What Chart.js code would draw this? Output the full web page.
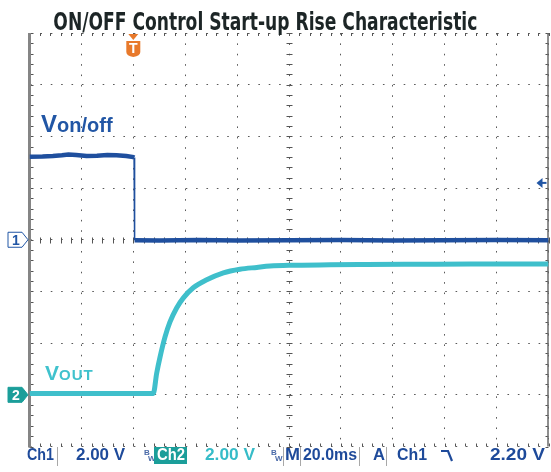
<!DOCTYPE html>
<html>
<head>
<meta charset="utf-8">
<script src="https://cdn.jsdelivr.net/npm/chart.js@4.4.1/dist/chart.umd.min.js"></script>
<style>
    html, body { margin: 0; padding: 0; background: #fff; }
    #cadre { position: relative; width: 551px; height: 472px; overflow: hidden; font-family: "Liberation Sans", Arial, sans-serif; }
    #graphique { position: absolute; left: 0; top: 0; }
    #titre { position: absolute; left: -500px; top: 7px; width: 1530px; text-align: center; line-height: 25px; white-space: nowrap; }
    #titreTexte { display: inline-block; font: bold 25px "Liberation Sans Narrow", "DejaVu Sans Condensed", sans-serif; color: #1c2526; transform-origin: 50% 50%; }
    .etiquette { position: absolute; white-space: nowrap; font-weight: bold; }
    #labelOnOff { left: 41px; top: 112px; line-height: 24px; color: #2156a5; }
    #labelOnOff .grand { font-size: 24px; }
    #labelOnOff .petit { font-size: 20px; }
    #labelOut { left: 45px; top: 362px; line-height: 21px; color: #40c2cd; }
    #labelOut .grand { font-size: 21px; }
    #labelOut .petit { font-size: 15px; letter-spacing: 1px; }
    .b { position: absolute; top: 447px; font: bold 16px/16px "Liberation Sans", Arial, sans-serif; white-space: nowrap; transform-origin: 0 50%; }
    .bleu { color: #1e4a9a; }
    .cyan { color: #36bcc8; }
    .ch2 { color: #fff; }
    #fondCh2 { position: absolute; left: 154px; top: 447px; width: 33px; height: 17px; background: #1b9e9a; }
    .sep { position: absolute; top: 447px; width: 1px; height: 19px; background: #a8a8a8; }
    .bw { position: absolute; font: bold 8px/8px "Liberation Sans", Arial, sans-serif; color: #4a6aa8; }
</style>
</head>
<body>
<div id="cadre">
    <canvas id="graphique" width="551" height="472"></canvas>
    <div id="titre"><span id="titreTexte">ON/OFF Control Start-up Rise Characteristic</span></div>
    <div id="labelOnOff" class="etiquette"><span class="grand">V</span><span class="petit">on/off</span></div>
    <div id="labelOut" class="etiquette"><span class="grand">V</span><span class="petit">OUT</span></div>

    <span class="b bleu" style="left:27px" data-w="27">Ch1</span>
    <span class="sep" style="left:57px"></span>
    <span class="b bleu" style="left:76px" data-w="49">2.00 V</span>
    <span class="bw" style="left:144px; top:449px">B</span>
    <span class="bw" style="left:148px; top:455px">W</span>
    <div id="fondCh2"></div>
    <span class="b ch2" style="left:157px" data-w="28">Ch2</span>
    <span class="b cyan" style="left:205px" data-w="50">2.00 V</span>
    <span class="bw" style="left:271px; top:449px">B</span>
    <span class="bw" style="left:275px; top:455px">W</span>
    <span class="sep" style="left:283px"></span>
    <span class="b bleu" style="left:285px" data-w="15">M</span>
    <span class="sep" style="left:300px"></span>
    <span class="b bleu" style="left:303px" data-w="54">20.0ms</span>
    <span class="sep" style="left:359px"></span>
    <span class="b bleu" style="left:373px" data-w="12">A</span>
    <span class="sep" style="left:386px"></span>
    <span class="b bleu" style="left:397px" data-w="30">Ch1</span>
    <svg style="position:absolute; left:440px; top:449px" width="16" height="14"><path d="M1 2 H8 L12 12" fill="none" stroke="#1e4a9a" stroke-width="2.2"/></svg>
    <span class="b bleu" style="left:490px" data-w="55">2.20 V</span>
</div>

<script>
const tempsCh1 = [-40, -35, -31, -27.5, -25, -22, -18, -14, -10, -6.5, -2.7, 0, 0.3, 0.5, 10, 25, 40, 60, 80, 100, 120, 140, 160];
const voltsCh1 = [3.21, 3.22, 3.24, 3.27, 3.30, 3.28, 3.24, 3.25, 3.28, 3.27, 3.24, 3.20, 3.18, -0.02, -0.03, -0.01, -0.03, -0.02, -0.01, -0.03, -0.02, -0.01, -0.02];

const tempsCh2 = [-40, 0, 7.7, 9.0, 10.3, 12.2, 14.1, 16.7, 19.3, 23.1, 28.3, 34.7, 41.1, 47.6, 52.7, 60, 75.8, 90, 110, 130, 160];
const voltsCh2 = [0.05, 0.05, 0.05, 0.83, 1.46, 2.23, 2.81, 3.36, 3.75, 4.14, 4.45, 4.72, 4.86, 4.93, 4.98, 5.01, 5.03, 5.04, 5.05, 5.06, 5.06];

// Réglages de l'oscilloscope
const VOLTS_PAR_DIV = 2;      // Ch1 et Ch2 : 2.00 V
const ZERO_CH1 = 0;           // repère 1 (en divisions)
const ZERO_CH2 = -3;          // repère 2
const NIVEAU_TRIGGER = 2.2;   // Ch1 2.20 V
const MS_PAR_DIV = 20;
const TEMPS_MIN = -40, TEMPS_MAX = 160;
const DIV_MIN = -4, DIV_MAX = 4;

function points(temps, volts, zero) {
    let pts = [];
    for (let i = 0; i < temps.length; i++) {
        pts.push({ x: temps[i], y: volts[i] / VOLTS_PAR_DIV + zero });
    }
    return pts;
}

// Repères de l'écran : graduations, bords, marqueurs 1 / 2 / T
let decor = {
    id: 'decor',
    beforeDatasetsDraw(chart) {
        let ctx = chart.ctx, a = chart.chartArea, sx = chart.scales.x, sy = chart.scales.y;
        let cx = Math.round(sx.getPixelForValue((TEMPS_MIN + TEMPS_MAX) / 2)) + 0.5;
        let cy = Math.round(sy.getPixelForValue(0)) + 0.5;
        ctx.save();
        ctx.strokeStyle = '#555555';
        ctx.lineWidth = 1;
        ctx.beginPath();
        for (let t = TEMPS_MIN; t <= TEMPS_MAX; t += MS_PAR_DIV / 5) {
            let x = Math.round(sx.getPixelForValue(t)) + 0.5;
            ctx.moveTo(x, cy - 3); ctx.lineTo(x, cy + 3);
            ctx.moveTo(x, a.top); ctx.lineTo(x, a.top + 3);
            ctx.moveTo(x, a.bottom); ctx.lineTo(x, a.bottom - 3);
        }
        for (let d = DIV_MIN; d <= DIV_MAX + 0.001; d += 0.2) {
            let y = Math.round(sy.getPixelForValue(d)) + 0.5;
            ctx.moveTo(cx - 3, y); ctx.lineTo(cx + 3, y);
            ctx.moveTo(a.right, y); ctx.lineTo(a.right - 3, y);
            ctx.moveTo(a.left, y); ctx.lineTo(a.left + 4, y);
        }
        ctx.stroke();

        ctx.strokeStyle = '#858585';
        ctx.lineWidth = 3;
        ctx.beginPath(); ctx.moveTo(a.left, a.top); ctx.lineTo(a.left, a.bottom + 1); ctx.stroke();
        ctx.lineWidth = 1.5;
        ctx.strokeStyle = '#6a6a6a';
        ctx.beginPath(); ctx.moveTo(a.right - 0.5, a.top); ctx.lineTo(a.right - 0.5, a.bottom); ctx.stroke();
        ctx.restore();
    },
    afterDatasetsDraw(chart) {
        let ctx = chart.ctx, sx = chart.scales.x, sy = chart.scales.y;
        ctx.save();

        function repere(y, texte, fond, trait, couleurTexte) {
            ctx.beginPath();
            ctx.moveTo(8, y - 7.5); ctx.lineTo(22, y - 7.5); ctx.lineTo(28, y); ctx.lineTo(22, y + 7.5); ctx.lineTo(8, y + 7.5);
            ctx.closePath();
            ctx.fillStyle = fond; ctx.fill();
            ctx.strokeStyle = trait; ctx.lineWidth = 1; ctx.stroke();
            ctx.fillStyle = couleurTexte;
            ctx.font = 'bold 14px "Liberation Sans", Arial, sans-serif';
            ctx.textAlign = 'center'; ctx.textBaseline = 'middle';
            ctx.fillText(texte, 16, y + 1);
        }
        repere(sy.getPixelForValue(ZERO_CH1), '1', '#ffffff', '#2156a5', '#2156a5');
        repere(sy.getPixelForValue(ZERO_CH2), '2', '#1b9e9a', '#1b9e9a', '#ffffff');

        // marqueur de déclenchement T
        let xt = sx.getPixelForValue(0), yh = chart.chartArea.top;
        ctx.fillStyle = '#e8792b';
        ctx.beginPath(); ctx.moveTo(xt - 5, yh + 1); ctx.lineTo(xt + 5, yh + 1); ctx.lineTo(xt, yh + 7); ctx.closePath(); ctx.fill();
        ctx.beginPath();
        ctx.moveTo(xt - 7, yh + 8); ctx.lineTo(xt + 7, yh + 8); ctx.lineTo(xt + 7, yh + 19);
        ctx.quadraticCurveTo(xt + 7, yh + 23, xt, yh + 24); ctx.quadraticCurveTo(xt - 7, yh + 23, xt - 7, yh + 19);
        ctx.closePath(); ctx.fill();
        ctx.fillStyle = '#ffffff';
        ctx.font = 'bold 14px "Liberation Sans", Arial, sans-serif';
        ctx.textAlign = 'center'; ctx.textBaseline = 'middle';
        ctx.fillText('T', xt, yh + 16);

        // niveau de déclenchement (flèche à droite)
        let yn = sy.getPixelForValue(NIVEAU_TRIGGER / VOLTS_PAR_DIV + ZERO_CH1);
        let xd = chart.chartArea.right;
        ctx.fillStyle = '#2156a5'; ctx.strokeStyle = '#2156a5'; ctx.lineWidth = 2;
        ctx.beginPath(); ctx.moveTo(xd - 12, yn); ctx.lineTo(xd - 6, yn - 5); ctx.lineTo(xd - 6, yn + 5); ctx.closePath(); ctx.fill();
        ctx.beginPath(); ctx.moveTo(xd - 7, yn); ctx.lineTo(xd - 2, yn); ctx.stroke();
        ctx.restore();
    }
};

function initGraphique() {
    let grille = { color: '#5a5a5a', lineWidth: 1, drawTicks: false };
    let bord = { display: false, dash: [1.6, 8.78] };

    new Chart(document.getElementById('graphique'), {
        type: 'line',
        data: {
            datasets: [
                { label: 'VOUT', data: points(tempsCh2, voltsCh2, ZERO_CH2), borderColor: '#3fbfcb', borderWidth: 5, cubicInterpolationMode: 'monotone' },
                {
                    label: 'Von/off', data: points(tempsCh1, voltsCh1, ZERO_CH1), borderColor: '#1f4f9e', borderWidth: 4.5, tension: 0,
                    segment: { borderWidth: c => (Math.abs(c.p0.parsed.y - c.p1.parsed.y) > 1 ? 1.5 : undefined) }
                }
            ]
        },
        options: {
            responsive: false, animation: false,
            layout: { padding: { left: 29.5, right: 2.5, top: 33, bottom: 25.5 } },
            plugins: { legend: { display: false }, tooltip: { enabled: false } },
            elements: { point: { radius: 0 } },
            scales: {
                x: {
                    type: 'linear', min: TEMPS_MIN, max: TEMPS_MAX,
                    ticks: { display: false, stepSize: MS_PAR_DIV },
                    grid: grille, border: bord,
                    afterFit: s => { s.height = 0; }
                },
                y: {
                    type: 'linear', min: DIV_MIN, max: DIV_MAX,
                    ticks: { display: false, stepSize: 1 },
                    grid: grille, border: bord,
                    afterFit: s => { s.width = 0; }
                }
            }
        },
        plugins: [decor]
    });
}

// Ajuste la largeur des textes à celle de l'écran d'origine
function ajusterTextes() {
    let titre = document.getElementById('titreTexte');
    titre.style.transform = 'scaleX(' + (424 / titre.getBoundingClientRect().width) + ')';
    let bas = document.querySelectorAll('.b[data-w]');
    for (let i = 0; i < bas.length; i++) {
        let w = bas[i].getBoundingClientRect().width;
        bas[i].style.transform = 'scaleX(' + (parseFloat(bas[i].dataset.w) / w) + ')';
    }
}

initGraphique();
ajusterTextes();
</script>
</body>
</html>
